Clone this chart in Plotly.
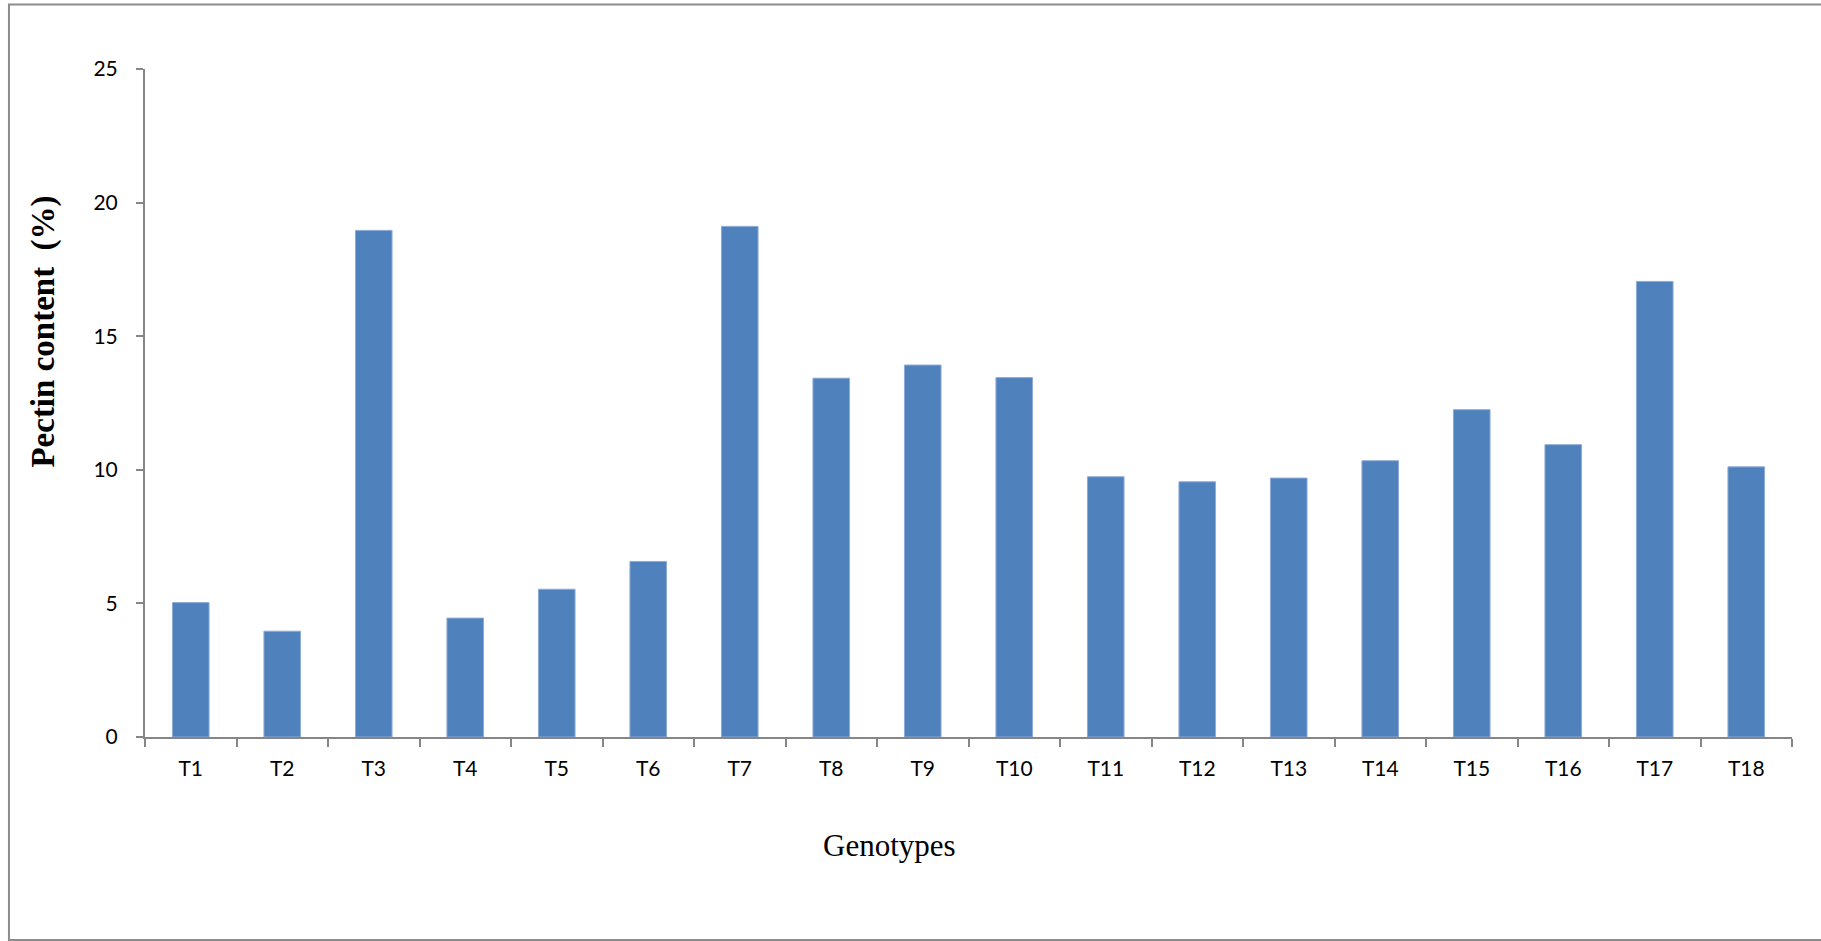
import plotly.graph_objects as go

# Pectin content by genotype
genotypes = ["T1", "T2", "T3", "T4", "T5", "T6", "T7", "T8", "T9",
             "T10", "T11", "T12", "T13", "T14", "T15", "T16", "T17", "T18"]
pectin_pct = [5.03, 3.96, 18.96, 4.45, 5.53, 6.57, 19.11, 13.43, 13.92,
              13.45, 9.74, 9.55, 9.69, 10.34, 12.25, 10.94, 17.05, 10.11]
y_ticks = [0, 5, 10, 15, 20, 25]

AXIS_GREY = "#868686"
TICK_FONT = dict(family="Lato, 'Open Sans', sans-serif", size=21, color="#000000")
SERIF = "'Liberation Serif', 'Times New Roman', serif"

fig = go.Figure(
    go.Bar(
        x=genotypes,
        y=pectin_pct,
        marker=dict(color="#4F81BD", line=dict(color="#8EAAD6", width=1)),
        width=0.4,
        hoverinfo="x+y",
    )
)

fig.update_layout(
    width=1821,
    height=941,
    margin=dict(l=145, r=29, t=69, b=204, pad=0),
    paper_bgcolor="#FFFFFF",
    plot_bgcolor="#FFFFFF",
    showlegend=False,
    xaxis=dict(
        type="category",
        showline=True,
        linecolor=AXIS_GREY,
        linewidth=2,
        ticks="outside",
        tickson="boundaries",
        ticklen=8,
        tickwidth=2,
        tickcolor=AXIS_GREY,
        tickfont=TICK_FONT,
        ticklabelstandoff=12,
        showgrid=False,
        zeroline=False,
        fixedrange=True,
    ),
    yaxis=dict(
        range=[0, 25],
        tickvals=y_ticks,
        showline=True,
        linecolor=AXIS_GREY,
        linewidth=2,
        ticks="outside",
        ticklen=7,
        tickwidth=2,
        tickcolor=AXIS_GREY,
        tickfont=TICK_FONT,
        ticklabelstandoff=14,
        showgrid=False,
        zeroline=False,
        fixedrange=True,
    ),
    shapes=[
        dict(
            type="rect", xref="paper", yref="paper",
            x0=-0.0826, x1=1.02, y0=-0.304, y1=1.0966,
            line=dict(color="#8C8C8C", width=2),
            fillcolor="rgba(0,0,0,0)",
            layer="below",
        )
    ],
    annotations=[
        dict(
            text="Genotypes",
            xref="paper", yref="paper",
            x=0.4523, y=-0.163,
            xanchor="center", yanchor="middle",
            showarrow=False,
            font=dict(family=SERIF, size=31, color="#000000"),
        ),
        dict(
            text="<b>Pectin content\u00a0\u00a0(%)</b>",
            xref="paper", yref="paper",
            x=-0.0619, y=0.607,
            xanchor="center", yanchor="middle",
            textangle=-90,
            showarrow=False,
            font=dict(family=SERIF, size=33, color="#000000"),
        ),
    ],
)

fig.write_html("out.html")
